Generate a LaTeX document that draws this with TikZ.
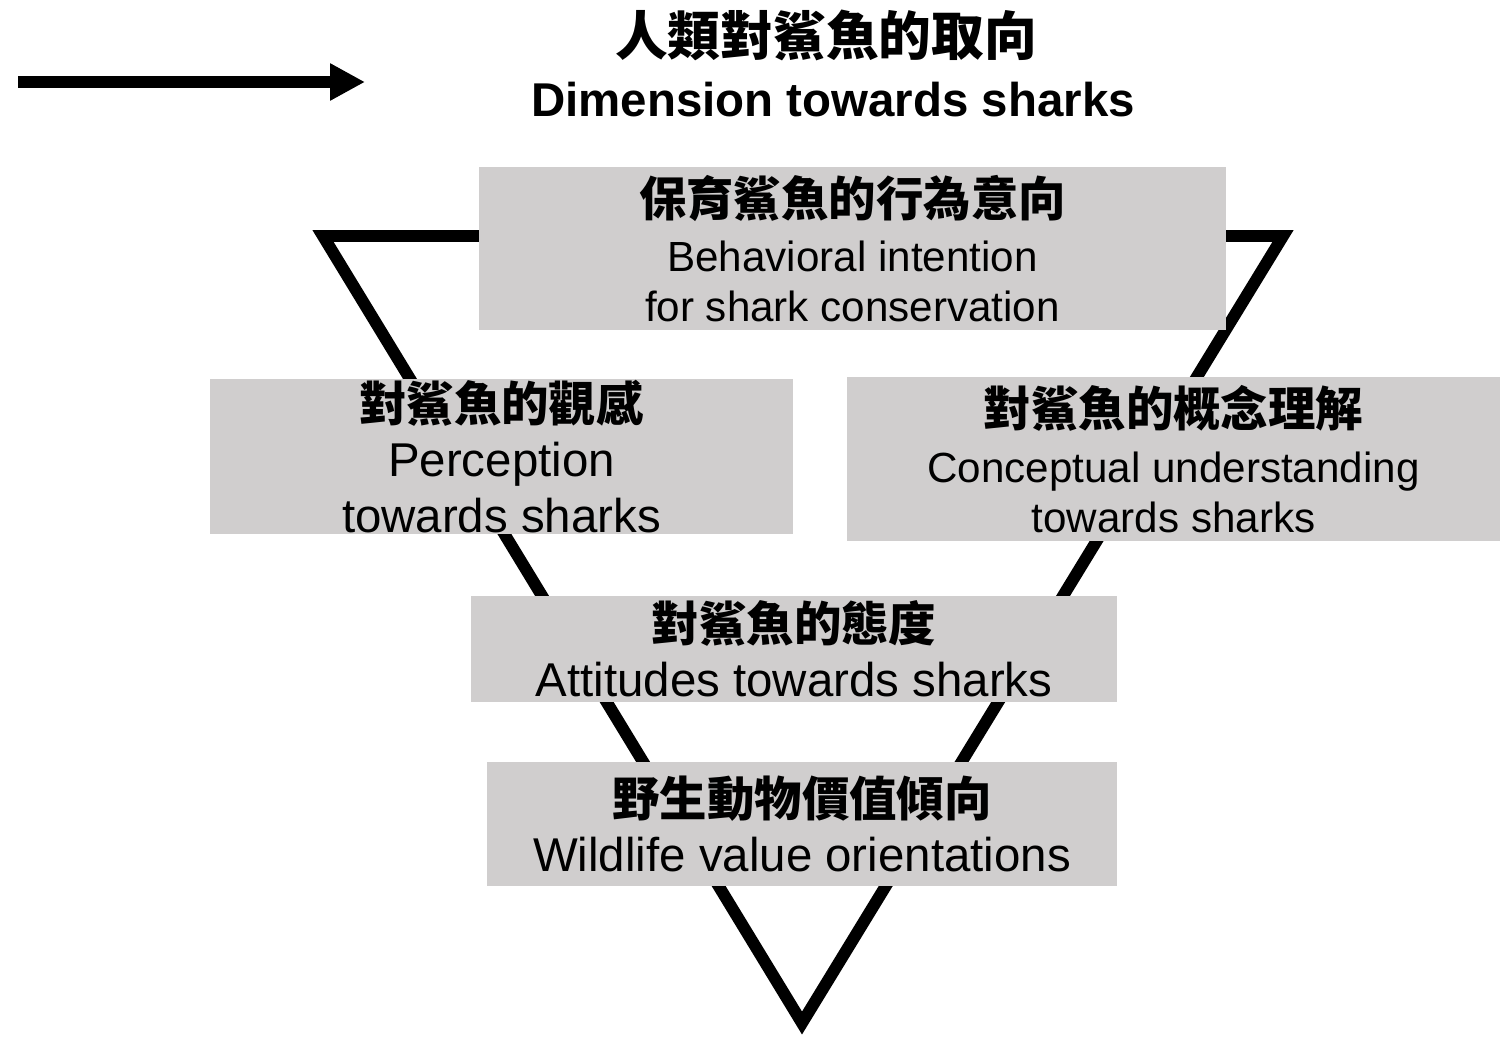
\documentclass[tikz,border=0pt]{standalone}
\usepackage{fontspec}
\setmainfont{Liberation Sans}
\newfontfamily\cjk{Noto Sans CJK TC}
\usetikzlibrary{arrows.meta}
\definecolor{boxgray}{RGB}{208,206,206}
\tikzset{
	khung/.style={fill=boxgray,inner sep=0pt,align=center},
	chulon/.style={font=\fontsize{27}{31.5}\selectfont},
	chunho/.style={font=\fontsize{24}{28.5}\selectfont},
}
\newcommand{\zh}[1]{{\cjk\bfseries\fontsize{27}{31.5}\selectfont #1}}
\begin{document}
\begin{tikzpicture}[>=stealth,x=0.02cm,y=-0.02cm]
	\useasboundingbox (0,0) rectangle (1501,1038);
	% tieu de va mui ten
	\coordinate (dau) at (18,82);
	\coordinate (cuoi) at (365,82);
	\draw[-{Triangle[length=0.7cm,width=0.7cm]},line width=6.3pt] (dau) -- (cuoi);
	\node[font=\cjk\bfseries\fontsize{30}{36}\selectfont] (tieude) at (826,35) {人類對鯊魚的取向};
	\node[font=\bfseries\fontsize{27}{32}\selectfont] (tieudeen) at (833,100) {Dimension towards sharks};
	% tam giac nguoc
	\coordinate (A) at (323,236);
	\coordinate (B) at (1283,236);
	\coordinate (C) at (802,1023);
	\draw[line width=6.8pt,line join=miter] (A) -- (B) -- (C) -- cycle;
	% cac khung
	\node[khung,chunho,minimum width=14.94cm,minimum height=3.26cm] (hanhvi) at (852.5,248.5)
		{\zh{保育鯊魚的行為意向}\\[3pt] Behavioral intention\\ for shark conservation};
	\node[khung,chulon,minimum width=11.66cm,minimum height=3.1cm] (quancam) at (501.5,456.5)
		{\zh{對鯊魚的觀感}\\ Perception\\ towards sharks};
	\node[khung,chunho,minimum width=13.06cm,minimum height=3.28cm] (khainiem) at (1173.5,459)
		{\zh{對鯊魚的概念理解}\\[3pt] Conceptual understanding\\ towards sharks};
	\node[khung,chulon,minimum width=12.92cm,minimum height=2.12cm] (thaido) at (794,649)
		{\zh{對鯊魚的態度}\\ Attitudes towards sharks};
	\node[khung,chulon,minimum width=12.6cm,minimum height=2.48cm] (giatri) at (802,824)
		{\zh{野生動物價值傾向}\\ Wildlife value orientations};
\end{tikzpicture}
\end{document}
